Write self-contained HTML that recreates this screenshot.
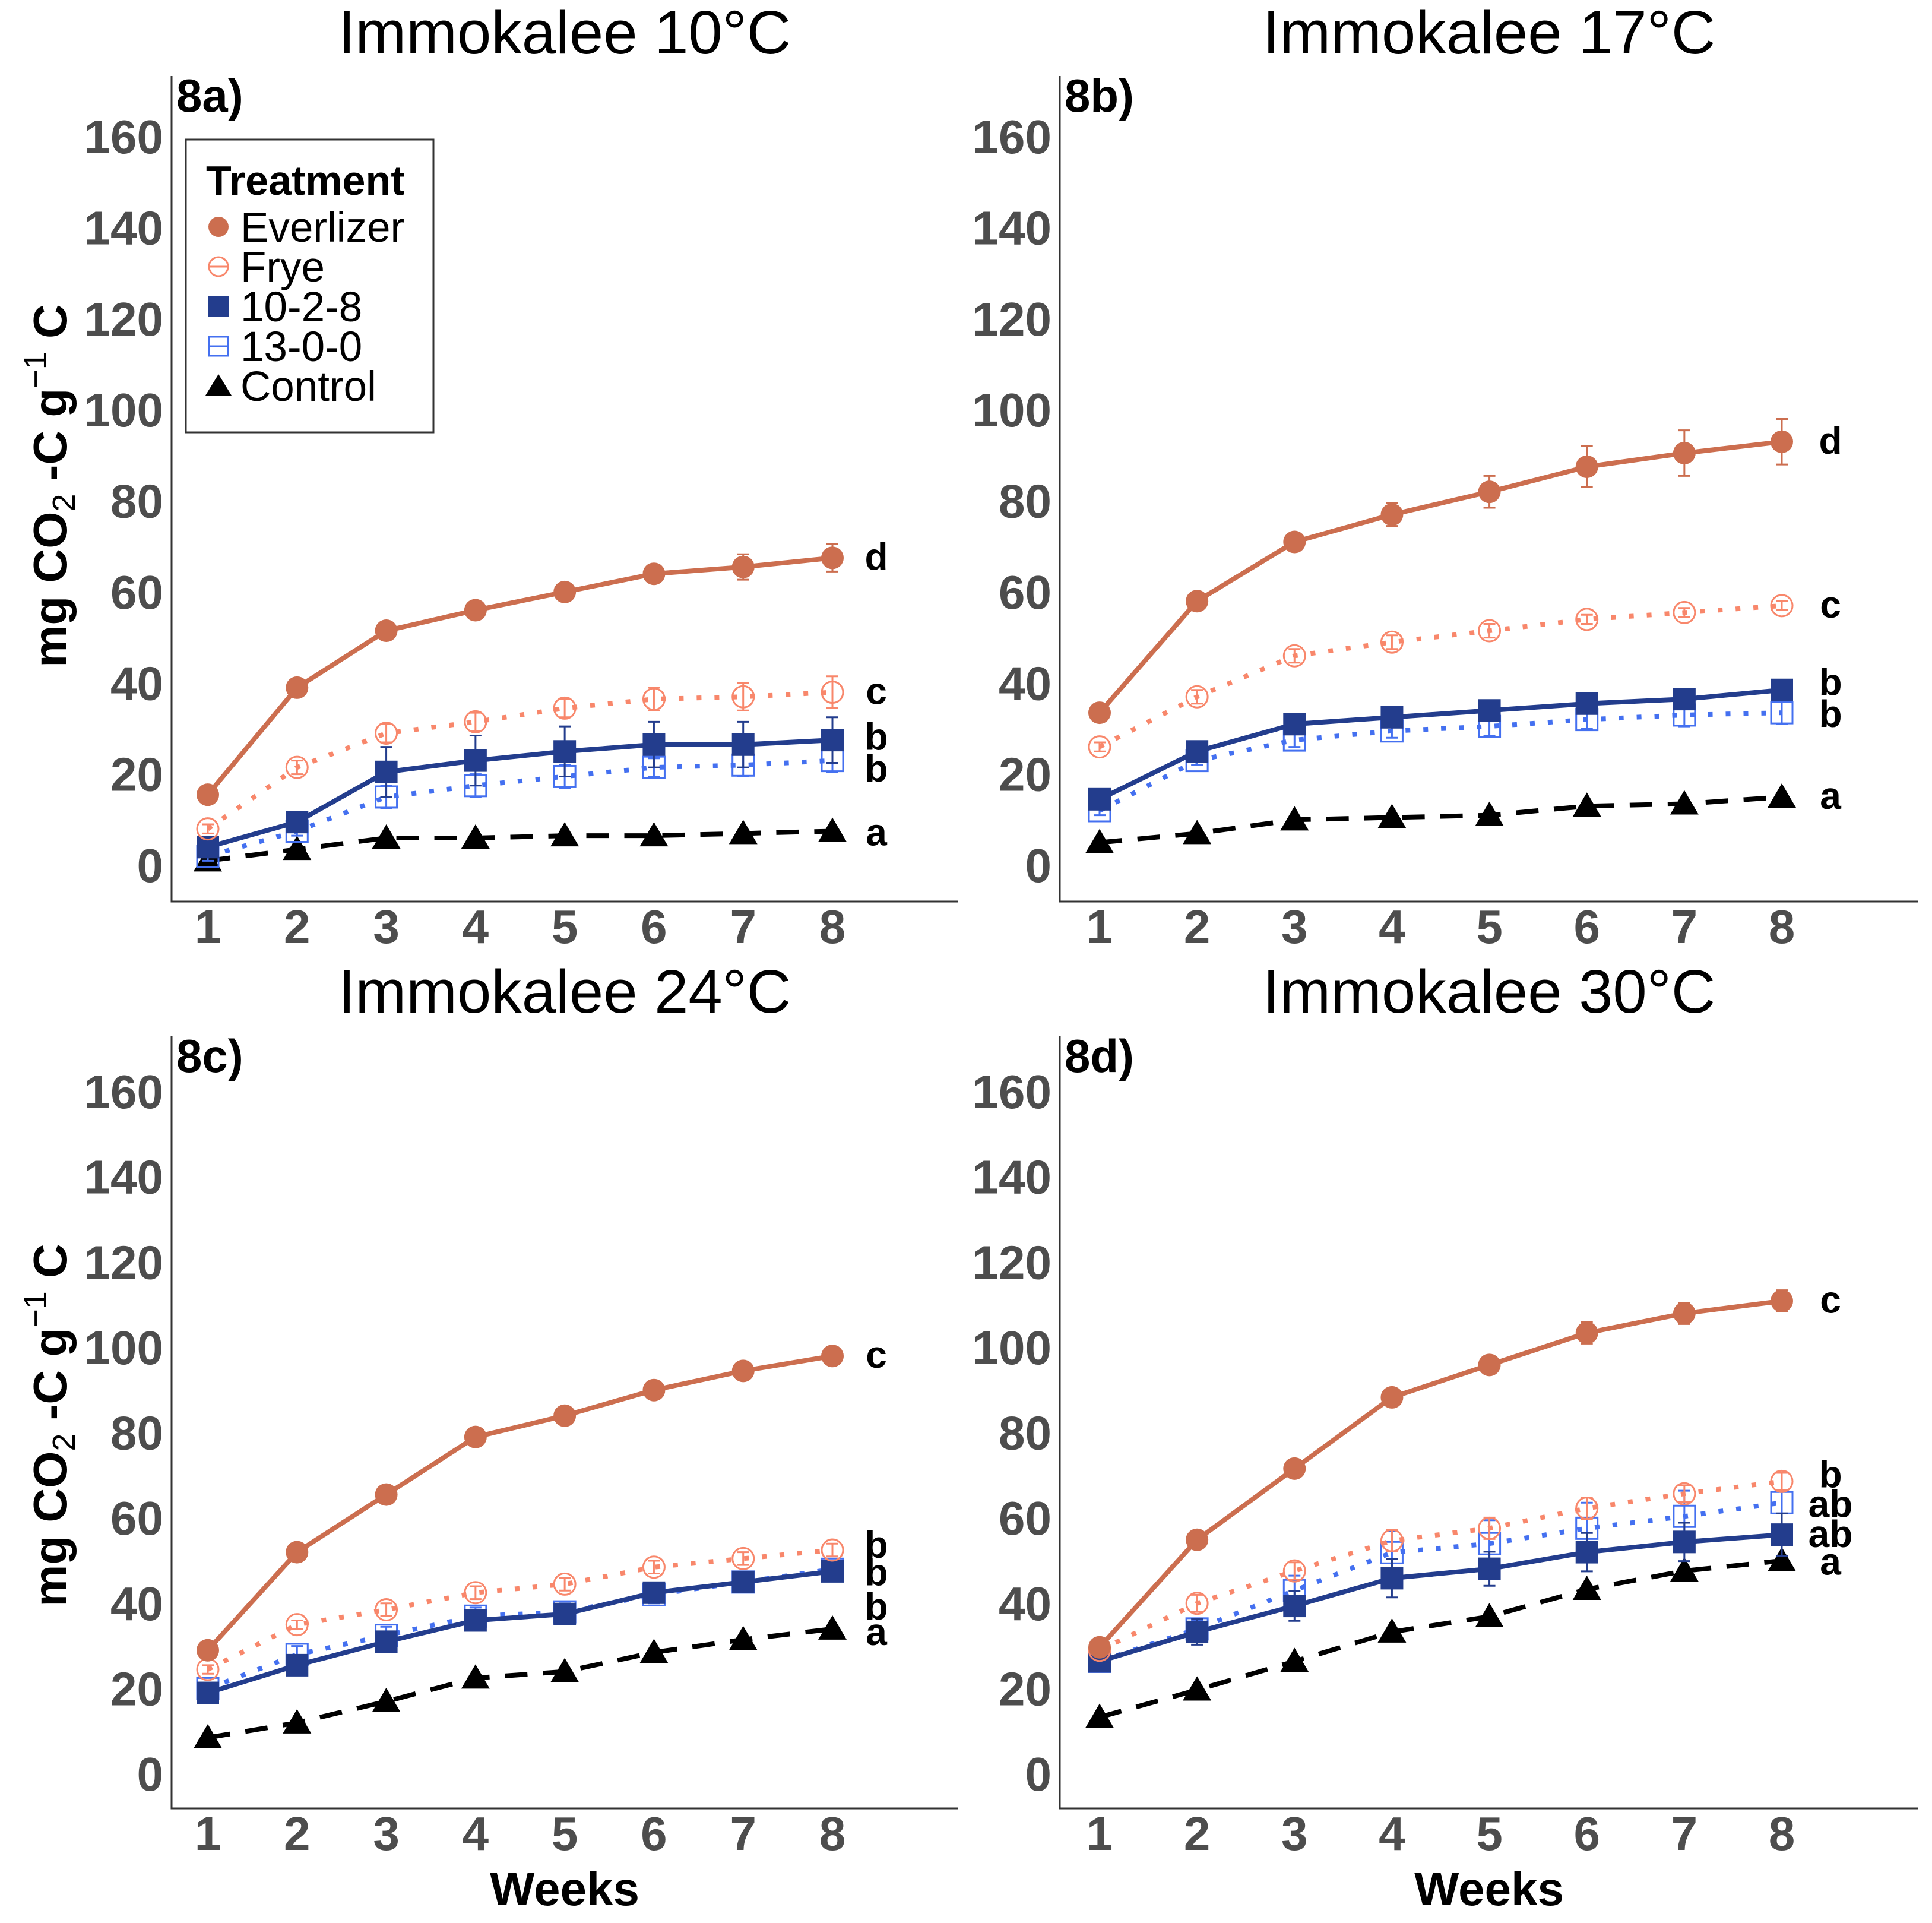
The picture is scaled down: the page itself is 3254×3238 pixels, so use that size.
<!DOCTYPE html>
<html><head><meta charset="utf-8"><style>
html,body{margin:0;padding:0;background:#fff;}
svg{display:block;font-family:"Liberation Sans",Arial,sans-serif;}
</style></head><body>
<svg id="chart" width="3254" height="3238" viewBox="0 0 3254 3238" xmlns="http://www.w3.org/2000/svg"></svg>
<script>
const weeks = [1,2,3,4,5,6,7,8];
const yTicks = [0,20,40,60,80,100,120,140,160];
const panelTitles = ["Immokalee 10°C","Immokalee 17°C","Immokalee 24°C","Immokalee 30°C"];
const panelTags = ["8a)","8b)","8c)","8d)"];
const seriesNames = ["Everlizer","Frye","10-2-8","13-0-0","Control"];
const a_everlizer = [15.5,39,51.5,56,60,64,65.5,67.5];
const a_frye = [8,21.5,29,31.5,34.5,36.5,37,38];
const a_1028 = [4,9.5,20.5,23,25,26.5,26.5,27.5];
const a_1300 = [2,7.5,15,17.5,19.5,21.5,22,23];
const a_control = [1,3.5,6,6,6.5,6.5,7,7.5];
const b_everlizer = [33.5,58,71,77,82,87.5,90.5,93];
const b_frye = [26,37,46,49,51.5,54,55.5,57];
const b_1028 = [14.5,25,31,32.5,34,35.5,36.5,38.5];
const b_1300 = [12,23,27.5,29.5,30.5,32,33,33.5];
const b_control = [5,7,10,10.5,11,13,13.5,15];
const c_everlizer = [29,52,65.5,79,84,90,94.5,98];
const c_frye = [24.5,35,38.5,42.5,44.5,48.5,50.5,52.5];
const c_1028 = [19,25.5,31,36,37.5,42.5,45,47.5];
const c_1300 = [20,28,32.5,37,38,42,45,48];
const c_control = [8.5,12,17,22.5,24,28.5,31.5,34];
const d_everlizer = [29.7,54.9,71.6,88.3,95.9,103.4,108,110.9];
const d_frye = [29,40,47.6,54.7,57.6,62.3,65.7,68.6];
const d_1028 = [26.4,33.3,39.4,45.9,48.1,52,54.4,56.1];
const d_1300 = [26.4,34,43,51.9,54,57.6,60.4,63.6];
const d_control = [13.3,19.7,26.4,33.3,36.9,43.3,47.6,50];
const a_err = [[0.8,1,1,1,1,1.8,2.8,3],[1,1.5,2,2,2,2.5,3,3.5],[1,1.5,5.5,5.5,5.5,5,5,5],[1,1,2.5,2.5,2.5,2,2.5,2.5],[0.3,0.3,0.3,0.3,0.3,0.3,0.3,0.3]];
const b_err = [[1,1,1.5,2.5,3.5,4.5,5,5],[1,1.5,1.5,1.5,1.5,1,1,1],[1,1,1,1,1,1,1,1],[1,1,1.5,1.5,2,2,2.5,2.5],[0.3,0.3,0.3,0.3,0.3,0.3,0.3,0.3]];
const c_err = [[0.5,0.5,0.5,0.5,0.5,0.5,0.5,0.5],[1,1,1.5,1.5,1.5,1.5,1.5,1.5],[1,1,1.5,1.5,1.5,1.5,1.5,1.5],[1,2,2,2,2,2,2,2],[0.5,1,2,3.5,4,3.5,3.5,3.5]];
const d_err = [[1,1,1,1.5,2,2.5,2.5,2.5],[1,2,2,2.5,2.5,2.5,2,2],[2,3,3.5,4.5,4,4.5,4.5,5],[1,2,3.5,5,5.5,6,6,7],[0.3,0.3,0.3,0.3,0.3,0.3,0.3,0.3]];
const a_letters = ["d","c","b","b","a"];
const b_letters = ["d","c","b","b","a"];
const c_letters = ["c","b","b","b","a"];
const d_letters = ["c","b","ab","ab","a"];
const a_letterVals = [67.5,38,28,21,7];
const b_letterVals = [93,57,40,33,15];
const c_letterVals = [98,53.5,47,39,33];
const d_letterVals = [110.9,70,63,56,49.5];

const panelData = [
  [a_everlizer,a_frye,a_1028,a_1300,a_control],
  [b_everlizer,b_frye,b_1028,b_1300,b_control],
  [c_everlizer,c_frye,c_1028,c_1300,c_control],
  [d_everlizer,d_frye,d_1028,d_1300,d_control]];
const panelErr = [a_err,b_err,c_err,d_err];
const panelLetters = [a_letters,b_letters,c_letters,d_letters];
const panelLetterVals = [a_letterVals,b_letterVals,c_letterVals,d_letterVals];

const geo = [
  {x0:289,x1:1613,yT:128,yB:1518,w1:350,w8:1402,v0:1457,v160:230,titleY:90},
  {x0:1785,x1:3231,yT:128,yB:1518,w1:1852,w8:3001,v0:1457,v160:230,titleY:90},
  {x0:289,x1:1613,yT:1745,yB:3045,w1:350,w8:1402,v0:2987,v160:1838,titleY:1705},
  {x0:1785,x1:3231,yT:1745,yB:3045,w1:1852,w8:3001,v0:2987,v160:1838,titleY:1705}];
const colors = ["#CC6E4F","#F8876B","#233D8D","#4470F0","#000000"];
const NS = "http://www.w3.org/2000/svg";
const svg = document.getElementById("chart");
function el(tag, attrs, parent){
  const e = document.createElementNS(NS, tag);
  for (const k in attrs) e.setAttribute(k, attrs[k]);
  (parent||svg).appendChild(e);
  return e;
}
function marker(g, s, x, y){
  let m;
  if (s===0){ m = el("circle",{cx:x,cy:y,r:19,fill:colors[0]},g); }
  else if (s===1){ m = el("circle",{cx:x,cy:y,r:18,fill:"none",stroke:colors[1],"stroke-width":3},g); }
  else if (s===2){ m = el("rect",{x:x-19,y:y-19,width:38,height:38,fill:colors[2]},g); }
  else if (s===3){ m = el("rect",{x:x-18,y:y-18,width:36,height:36,fill:"none",stroke:colors[3],"stroke-width":3},g); }
  else { m = el("polygon",{points:`${x},${y-23} ${x+24},${y+18} ${x-24},${y+18}`,fill:"#000"},g); }
  return m;
}
geo.forEach((G, p) => {
  const xs = w => G.w1 + (w-1)*(G.w8-G.w1)/7;
  const ys = v => G.v0 + v*(G.v160-G.v0)/160;
  const cx = (G.x0+G.x1)/2;
  const panel = el("g",{});
  
  
  const t = el("text",{x:cx,y:G.titleY,"text-anchor":"middle","font-size":103,fill:"#000"},panel);
  t.textContent = panelTitles[p];
  
  
  const ax = el("path",{d:`M${G.x0},${G.yT} V${G.yB} H${G.x1}`,fill:"none",stroke:"#333","stroke-width":3},panel);
  
  
  const tag = el("text",{x:G.x0+8,y:G.yT+60,"font-size":78,"font-weight":"bold",fill:"#000"},panel);
  tag.textContent = panelTags[p];
  
  
  yTicks.forEach(v => {
    const tl = el("text",{x:G.x0-14,y:ys(v)+28,"text-anchor":"end","font-size":80,"font-weight":"bold",fill:"#4d4d4d"},panel);
    tl.textContent = v;
    
    
  });
  weeks.forEach(w => {
    const tl = el("text",{x:xs(w),y:G.yB+70,"text-anchor":"middle","font-size":80,"font-weight":"bold",fill:"#4d4d4d"},panel);
    tl.textContent = w;
    
    
  });
  if (p>=2){
    const wl = el("text",{x:cx,y:G.yB+163,"text-anchor":"middle","font-size":80,"font-weight":"bold",fill:"#000"},panel);
    wl.textContent = "Weeks";
    
    
  }
  if (p%2===0){
    const yc = (G.yT+G.yB)/2 + (p===0?-5:5);
    const yt = el("text",{x:0,y:0,transform:`translate(112,${yc}) rotate(-90)`,"text-anchor":"middle","font-size":80,"font-weight":"bold",fill:"#000"},panel);
    yt.innerHTML = 'mg CO<tspan font-size="54" font-weight="normal" dy="14">2</tspan><tspan dy="-14"> -C g</tspan><tspan font-size="54" font-weight="normal" dy="-34">−1</tspan><tspan dy="34"> C</tspan>';
    
    
  }
  const order = [4,3,2,1,0];
  order.forEach(s => {
    const vals = panelData[p][s];
    const g = el("g",{},panel);
    
    
    const d = vals.map((v,i)=>(i?"L":"M")+xs(weeks[i])+","+ys(v)).join(" ");
    const attrs = {d:d,fill:"none",stroke:colors[s],"stroke-width":8};
    if (s===1||s===3){ attrs["stroke-dasharray"]="8 22"; attrs["stroke-linecap"]="butt"; }
    if (s===4){ attrs["stroke-dasharray"]="38 26"; }
    const line = el("path",attrs,g);
    
    
    vals.forEach((v,i) => {
      const x = xs(weeks[i]), e = panelErr[p][s][i];
      if (s!==4){
        const eb = el("path",{d:`M${x-10},${ys(v+e)} H${x+10} M${x},${ys(v+e)} V${ys(v-e)} M${x-10},${ys(v-e)} H${x+10}`,stroke:colors[s],"stroke-width":3,fill:"none"},g);
        
        
      }
      const m = marker(g, s, x, ys(v));
      
      
    });
    const lt = el("text",{x:xs(8)+ (p%2? 82:74),y:ys(panelLetterVals[p][s])+20,"text-anchor":"middle","font-size":64,"font-weight":"bold",fill:"#000"},g);
    lt.textContent = panelLetters[p][s];
    
    
  });
});
const lg = el("g",{});


const lb = el("rect",{x:313,y:235,width:417,height:493,fill:"#fff",stroke:"#333","stroke-width":3},lg);


const lt = el("text",{x:347,y:328,"font-size":70,"font-weight":"bold",fill:"#000"},lg);
lt.textContent = "Treatment";


const legendY = [382,449,516,583,650];
seriesNames.forEach((n,s) => {
  const g = el("g",{},lg);
  
  
  const cy = legendY[s];
  if (s===0) el("circle",{cx:368,cy:cy,r:17,fill:colors[0]},g);
  else if (s===1){ el("circle",{cx:368,cy:cy,r:16,fill:"none",stroke:colors[1],"stroke-width":3},g); el("line",{x1:352,x2:384,y1:cy,y2:cy,stroke:colors[1],"stroke-width":3},g); }
  else if (s===2) el("rect",{x:351,y:cy-17,width:34,height:34,fill:colors[2]},g);
  else if (s===3){ el("rect",{x:352,y:cy-16,width:32,height:32,fill:"none",stroke:colors[3],"stroke-width":3},g); el("line",{x1:352,x2:384,y1:cy,y2:cy,stroke:colors[3],"stroke-width":3},g); }
  else el("polygon",{points:`368,${cy-20} 390,${cy+16} 346,${cy+16}`,fill:"#000"},g);
  const t = el("text",{x:405,y:cy+25,"font-size":71,fill:"#000"},g);
  t.textContent = n;
});
</script>
</body></html>
